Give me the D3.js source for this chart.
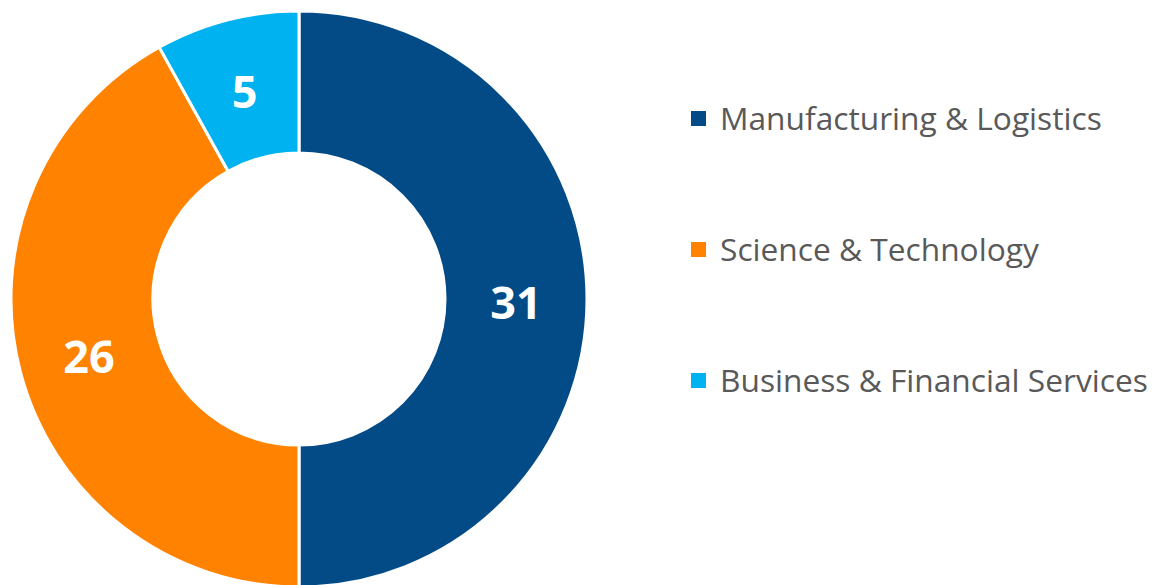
<!DOCTYPE html>
<html>
<head>
<meta charset="utf-8">
<script src="https://cdn.jsdelivr.net/npm/d3@7"></script>
<style>
  body { margin: 0; background: #fff; }
  svg { display: block; }
</style>
</head>
<body>
<div id="chart"></div>
<script>
// data
var categories = ["Manufacturing & Logistics", "Science & Technology", "Business & Financial Services"];
var values = [31, 26, 5];
var colors = ["#024b87", "#ff8300", "#00b2f0"];

var width = 1153, height = 585;
var cx = 299, cy = 299, outerR = 288, innerR = 146;

var svg = d3.select("#chart").append("svg")
  .attr("width", width)
  .attr("height", height);

var pie = d3.pie().sort(null).value(function(d) { return d; });
var arc = d3.arc().innerRadius(innerR).outerRadius(outerR);
var arcs = pie(values);

var g = svg.append("g").attr("transform", "translate(" + cx + "," + cy + ")");

g.selectAll("path")
  .data(arcs)
  .enter().append("path")
  .attr("d", arc)
  .attr("fill", function(d, i) { return colors[i]; })
  .attr("stroke", "#fff")
  .attr("stroke-width", 3)
  .attr("stroke-linejoin", "miter");

g.selectAll("text.val")
  .data(arcs)
  .enter().append("text")
  .attr("class", "val")
  .attr("transform", function(d) { var c = arc.centroid(d); return "translate(" + c[0] + "," + (c[1] + 2) + ")"; })
  .attr("text-anchor", "middle")
  .attr("dominant-baseline", "central")
  .style("font-family", "'Segoe UI', 'Open Sans', 'Noto Sans', sans-serif")
  .style("font-weight", "bold")
  .style("font-size", "45px")
  .attr("fill", "#fff")
  .text(function(d) { return d.data; });

// legend
var legendY = d3.scalePoint().domain(categories).range([119, 381]);

var leg = svg.append("g");
leg.selectAll("rect")
  .data(categories)
  .enter().append("rect")
  .attr("x", 691)
  .attr("y", function(d) { return legendY(d) - 8; })
  .attr("width", 15)
  .attr("height", 15)
  .attr("fill", function(d, i) { return colors[i]; });

var labels = leg.selectAll("text")
  .data(categories)
  .enter().append("text")
  .attr("x", 720)
  .attr("y", function(d) { return legendY(d) - 2; })
  .attr("dominant-baseline", "central")
  .style("font-family", "'Segoe UI', 'Open Sans', 'Noto Sans', sans-serif")
  .style("font-size", "30px")
  .attr("fill", "#595959")
  .text(function(d) { return d; });

// fit font size so the first label spans about the same width as in the reference
var w0 = labels.node().getComputedTextLength();
if (w0 > 0) {
  var fs = 30 * 382 / w0;
  labels.style("font-size", fs + "px");
}
</script>
</body>
</html>
